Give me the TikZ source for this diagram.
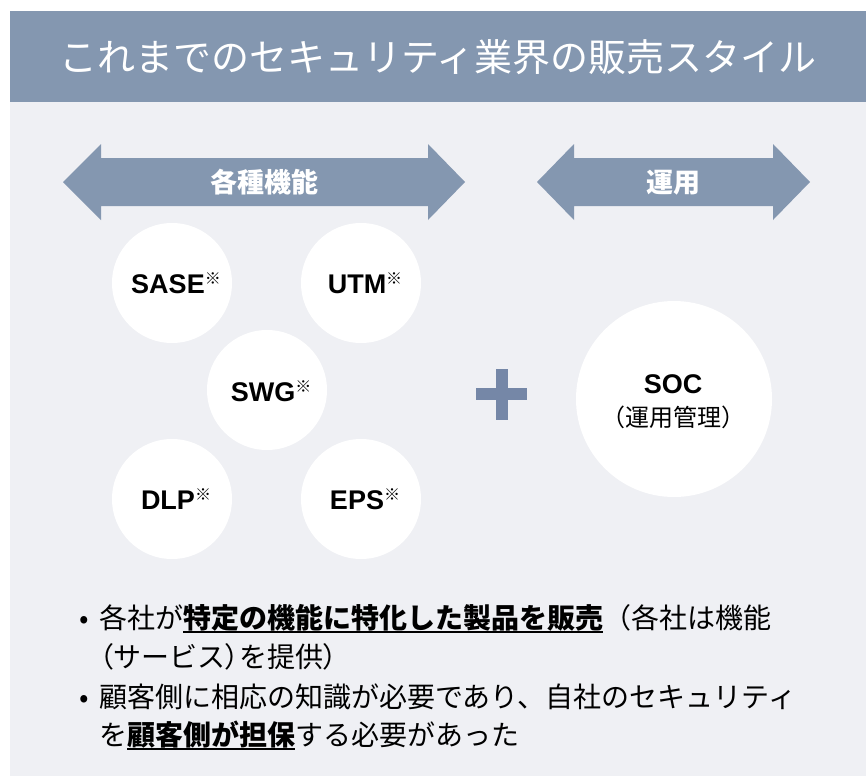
\documentclass[tikz,border=0pt]{standalone}
\usepackage{fontspec}
\setmainfont{Liberation Sans}
\newfontfamily\jp{Noto Sans CJK JP}
\newfontfamily\jpp[RawFeature=+palt]{Noto Sans CJK JP}
\definecolor{band}{HTML}{8497B0}
\definecolor{bg}{HTML}{EFF0F4}
\definecolor{plusc}{HTML}{7587A7}
\newcommand\kome{{\jp\fontsize{16}{16}\selectfont\raisebox{9pt}{※}}}
\newcommand\myul[1]{\setbox0\hbox{#1}\rlap{\rule[-5pt]{\wd0}{2pt}}\box0}
\begin{document}
\begin{tikzpicture}[x=1pt,y=-1pt,
  circ/.style={circle, fill=white, minimum size=120pt, inner sep=0pt},
  clbl/.style={anchor=base, inner sep=0pt, font=\fontsize{27}{27}\selectfont\bfseries},
  arrowlbl/.style={anchor=base, inner sep=0pt, text=white, font=\jp\fontsize{27}{27}\selectfont\bfseries},
  btxt/.style={anchor=base west, inner sep=0pt, font=\jp\fontsize{28}{28}\selectfont},
  bdot/.style={anchor=base, inner sep=0pt, font=\jp\fontsize{28}{28}\selectfont}]
\useasboundingbox (0,0) rectangle (866,776);
\fill[white] (0,0) rectangle (866,776);
\fill[bg] (10,102) rectangle (866,776);
\fill[band] (10,11) rectangle (866,102);
\node[anchor=base, inner sep=0pt, text=white, font=\jp\fontsize{38}{38}\selectfont] (title) at (438,71) {これまでのセキュリティ業界の販売スタイル};
% double arrows
\fill[band] (63,182) -- (101,144) -- (101,158) -- (428,158) -- (428,144) -- (465,182) -- (428,220) -- (428,206) -- (101,206) -- (101,220) -- cycle;
\fill[band] (537,182) -- (574,144) -- (574,158) -- (773,158) -- (773,144) -- (810,182) -- (773,220) -- (773,206) -- (574,206) -- (574,220) -- cycle;
\node[arrowlbl] (lab1) at (264,192) {各種機能};
\node[arrowlbl] (lab2) at (673.5,192) {運用};
% circles
\node[circ] (sase) at (172,283) {};
\node[circ] (utm) at (361,283) {};
\node[circ] (swg) at (267,390) {};
\node[circ] (dlp) at (172,499) {};
\node[circ] (eps) at (361,499) {};
\node[clbl] (tsase) at (176,293) {SASE\kome};
\node[clbl] (tutm) at (365,293) {UTM\kome};
\node[clbl] (tswg) at (271,401) {SWG\kome};
\node[clbl] (tdlp) at (176,509) {DLP\kome};
\node[clbl] (teps) at (365,509) {EPS\kome};
% plus
\fill[plusc] (495.5,369) rectangle (507.5,420);
\fill[plusc] (476,388) rectangle (527,400);
% SOC
\node[circ, minimum size=196pt] (soc) at (674,399) {};
\node[clbl] (tsoc) at (673,393) {SOC};
\node[anchor=base, inner sep=0pt, font=\jp\fontsize{24}{24}\selectfont] (tsoc2) at (673,426) {（運用管理）};
% bullets
\node[bdot] (b1) at (84,628) {•};
\node[btxt] (l1) at (99,628) {各社が\myul{\bfseries 特定の機能に特化した製品を販売}（各社は機能};
\node[btxt] (l2) at (99,667) {{\jpp （}サービス{\jpp ）}を提供{\jpp ）}};
\node[bdot] (b2) at (84,707) {•};
\node[btxt] (l3) at (99,707) {顧客側に相応の知識が必要であり、自社のセキュリティ};
\node[btxt] (l4) at (99,745) {を\myul{\bfseries 顧客側が担保}する必要があった};
\end{tikzpicture}
\end{document}
